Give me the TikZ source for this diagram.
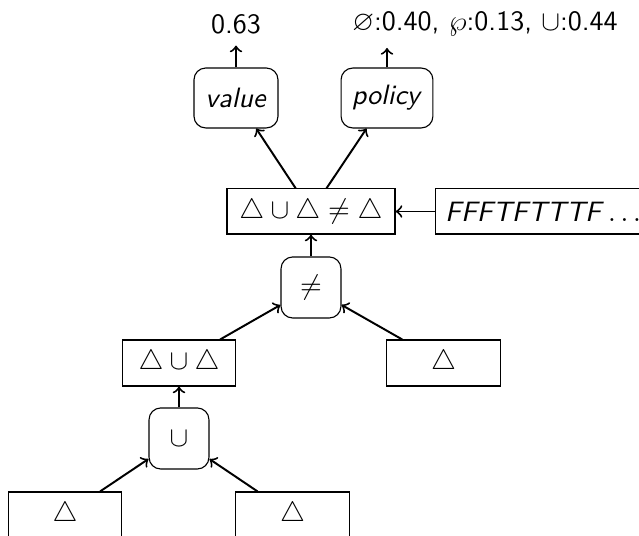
\documentclass[tikz,border=0pt]{standalone}
\usepackage{amssymb}
\begin{document}
\begin{tikzpicture}[x=0.357pt,y=-0.357pt,
  font=\sffamily,
  sqbox/.style={draw,line width=0.4pt,rectangle,inner sep=0pt,minimum width=40.5pt,minimum height=16.4pt},
  rbox/.style={draw,line width=0.4pt,rectangle,rounded corners=4.2pt,inner sep=0pt},
  lbl/.style={inner sep=4pt},
  conn/.style={->,line width=0.7pt}]
\useasboundingbox (0,0) rectangle (639,536);
% nodes
\node[lbl] (vtxt) at (236,24) {0.63};
\node[lbl] (ptxt) at (485,24) {$\varnothing$:0.40, $\wp$:0.13, $\cup$:0.44};
\node[rbox,minimum width=30pt,minimum height=21.4pt] (value) at (236,98) {\textit{value}};
\node[rbox,minimum width=32.8pt,minimum height=21.4pt] (policy) at (387,98) {\textit{policy}};
\node[sqbox,minimum width=60pt,minimum height=16.1pt] (main) at (311,211.5) {$\triangle\cup\triangle\neq\triangle$};
\node[draw,line width=0.4pt,anchor=west,minimum height=16.1pt,inner sep=3.4pt] (seq) at (435,211.5) {\textit{FFFTFTTTF}\hspace{0.15em}$\ldots$};
\node[rbox,minimum width=21.4pt,minimum height=21.8pt] (neq) at (311,287.5) {$\neq$};
\node[sqbox] (uu) at (179,363) {$\triangle\cup\triangle$};
\node[sqbox] (tr) at (443.5,363) {$\triangle$};
\node[rbox,minimum width=21.4pt,minimum height=21.8pt] (cup) at (179,438.5) {$\cup$};
\node[sqbox] (bl) at (65,515) {$\triangle$};
\node[sqbox] (br) at (292.5,515) {$\triangle$};
% connectors
\draw[conn] (value.north) -- (value.north |- vtxt.south);
\draw[conn] (policy.north) -- (policy.north |- ptxt.south);
\draw[conn] (main) -- (value);
\draw[conn] (main) -- (policy);
\draw[conn] (seq) -- (main);
\draw[conn] (neq) -- (main);
\draw[conn] (uu) -- (neq);
\draw[conn] (tr) -- (neq);
\draw[conn] (cup) -- (uu);
\draw[conn] (bl) -- (cup);
\draw[conn] (br) -- (cup);
\end{tikzpicture}
\end{document}
